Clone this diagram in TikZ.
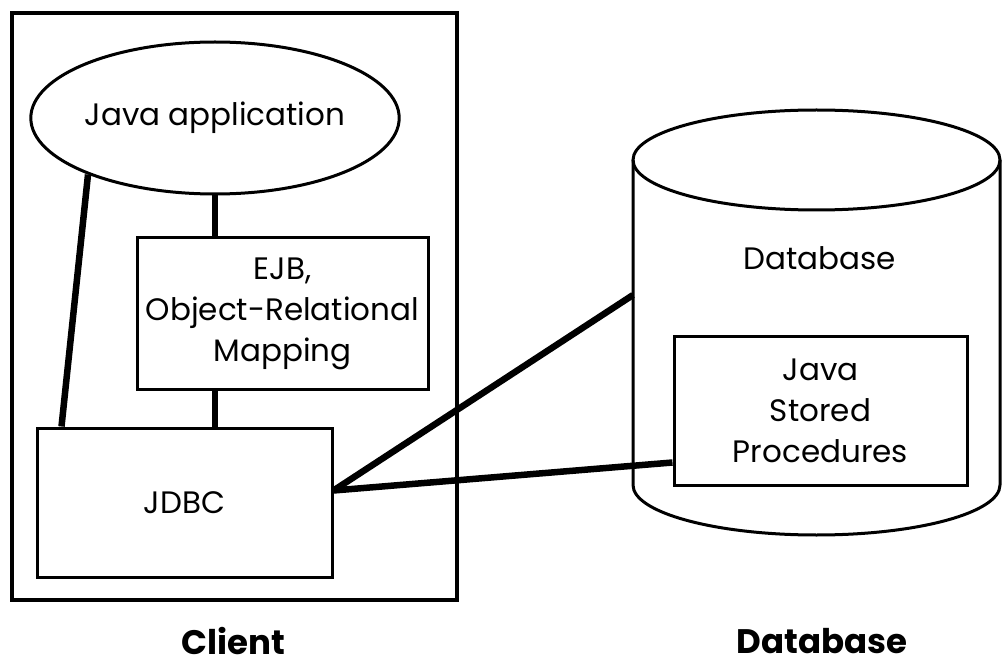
\documentclass[tikz,border=0pt]{standalone}
\usepackage{fontspec}
\setmainfont{Poppins}
\usetikzlibrary{shapes.geometric}
\tikzset{
  box/.style={draw, line width=3pt, rectangle, inner sep=0pt, align=center,
    font=\fontsize{31}{41}\selectfont},
  conn/.style={line width=6.5pt},
  caption/.style={inner sep=0pt, text depth=0pt, font=\fontsize{34}{40}\selectfont\bfseries},
}
\begin{document}
\begin{tikzpicture}[x=1pt, y=-1pt]
\useasboundingbox (0,0) rectangle (1002,663);
% client container
\node[draw, line width=3.5pt, inner sep=0pt, minimum width=445pt, minimum height=587pt] (client) at (234.5,306.5) {};
\node[box, ellipse, minimum width=306pt, minimum height=152pt] (app) at (215,118) {Java application};
\node[box, minimum width=291pt, minimum height=151pt] (ejb) at (282.5,313.5) {EJB,\\Object-Relational\\Mapping};
\node[box, minimum width=295pt, minimum height=149pt] (jdbc) at (184.5,502.5) {JDBC};
% database cylinder
\draw[line width=3pt] (816.5,160) ellipse[x radius=183.5pt, y radius=50pt];
\draw[line width=3pt] (633,160) -- (633,485) arc[start angle=180, end angle=360, x radius=183.5pt, y radius=50pt] -- (1000,160);
\coordinate (dbside) at (633,295);
\node[font=\fontsize{31}{41}\selectfont] (dblabel) at (820,258) {Database};
\node[box, minimum width=293pt, minimum height=149pt] (jsp) at (820.5,410.5) {Java\\Stored\\Procedures};
% connectors
\draw[conn] (app.south) -- (app.south |- ejb.north);
\draw[conn] (app.south |- ejb.south) -- (app.south |- jdbc.north);
\draw[conn] (app.204) -- ([xshift=26pt]jdbc.north west);
\draw[conn] ([yshift=12pt]jdbc.east) -- (dbside);
\draw[conn] ([yshift=12pt]jdbc.east) -- ([yshift=-52pt]jsp.west);
% captions
\node[caption] (clientcap) at (233,641) {Client};
\node[caption] (dbcap) at (822,641) {Database};
\end{tikzpicture}
\end{document}
